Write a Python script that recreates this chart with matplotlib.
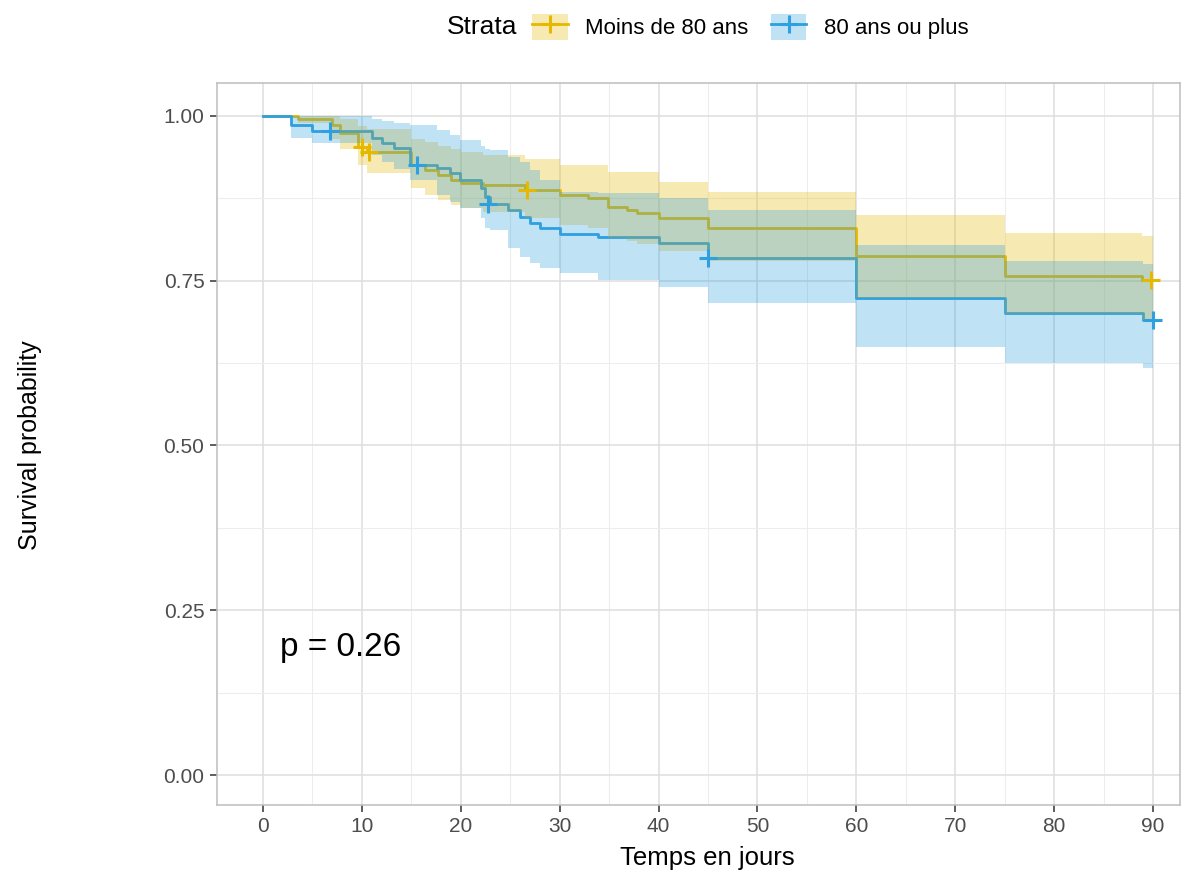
import numpy as np
import matplotlib
matplotlib.use("Agg")
import matplotlib.pyplot as plt
from matplotlib.patches import Patch
from matplotlib.lines import Line2D
from matplotlib.legend_handler import HandlerTuple

plt.rcParams['font.family'] = ['Liberation Sans', 'DejaVu Sans']

# Moins de 80 ans
t_young = [0, 3.5, 7.0, 7.8, 9.6, 10.5, 15.0, 16.4, 17.7, 19.0, 20.0, 22.2, 26.5, 30.0,
           32.9, 34.9, 36.8, 37.8, 40.0, 45.0, 60.0, 75.0, 88.9, 90.0]
s_young = [1.0, 0.996, 0.986, 0.974, 0.953, 0.945, 0.926, 0.918, 0.910, 0.903, 0.898, 0.895,
           0.888, 0.880, 0.876, 0.862, 0.857, 0.853, 0.845, 0.830, 0.788, 0.757, 0.751, 0.751]
up_young = [1.0, 1.0, 1.0, 0.995, 0.985, 0.98, 0.965, 0.96, 0.955, 0.95, 0.945, 0.94,
            0.935, 0.926, 0.926, 0.915, 0.915, 0.915, 0.90, 0.885, 0.85, 0.822, 0.818, 0.818]
lo_young = [1.0, 0.99, 0.965, 0.95, 0.925, 0.913, 0.89, 0.88, 0.872, 0.865, 0.86, 0.855,
            0.845, 0.835, 0.83, 0.815, 0.81, 0.805, 0.795, 0.78, 0.724, 0.70, 0.69, 0.69]
cens_t_young = [10.0, 10.7, 26.7, 89.8]
cens_s_young = [0.953, 0.945, 0.888, 0.751]

# 80 ans ou plus
t_old = [0, 2.8, 5.0, 11.0, 12.0, 13.2, 14.9, 17.6, 18.9, 19.9, 22.0, 22.5, 23.0, 24.8,
         26.0, 27.0, 28.0, 30.0, 33.9, 40.0, 45.0, 60.0, 75.0, 89.0, 90.0]
s_old = [1.0, 0.986, 0.977, 0.967, 0.959, 0.951, 0.926, 0.921, 0.913, 0.903, 0.891, 0.877,
         0.866, 0.857, 0.847, 0.838, 0.830, 0.821, 0.816, 0.807, 0.785, 0.724, 0.701, 0.690, 0.690]
up_old = [1.0, 1.0, 1.0, 0.995, 0.993, 0.99, 0.986, 0.979, 0.971, 0.964, 0.955, 0.95,
          0.948, 0.938, 0.93, 0.918, 0.903, 0.885, 0.883, 0.876, 0.857, 0.804, 0.78, 0.775, 0.775]
lo_old = [1.0, 0.967, 0.959, 0.94, 0.93, 0.92, 0.903, 0.88, 0.87, 0.86, 0.845, 0.83,
          0.827, 0.80, 0.786, 0.777, 0.769, 0.762, 0.751, 0.741, 0.716, 0.65, 0.625, 0.618, 0.618]
cens_t_old = [6.8, 15.6, 22.8, 45.0, 90.0]
cens_s_old = [0.977, 0.926, 0.866, 0.785, 0.690]

labels = ['Moins de 80 ans', '80 ans ou plus']
colors = ['#E7B800', '#2E9FDF']

fig = plt.figure(figsize=(12.03, 8.75), dpi=100)
ax = fig.add_axes([217/1203, 1 - 805/875, (1180 - 217)/1203, (805 - 83)/875])

groups = [(t_young, s_young, up_young, lo_young, cens_t_young, cens_s_young),
          (t_old, s_old, up_old, lo_old, cens_t_old, cens_s_old)]
for (t, s, up, lo, ct, cs), c in zip(groups, colors):
    ax.step(t, s, where='post', color=c, lw=2.0, zorder=3)
for (t, s, up, lo, ct, cs), c in zip(groups, colors):
    ax.fill_between(t, lo, up, step='post', color=c, alpha=0.3, lw=0, zorder=4)
for (t, s, up, lo, ct, cs), c in zip(groups, colors):
    ax.plot(ct, cs, ls='none', marker='+', color=c, ms=13, mew=2.2, zorder=5)

ax.set_xlim(-4.65, 92.73)
ax.set_ylim(-0.0455, 1.050)
ax.set_xticks(np.arange(0, 91, 10))
ax.set_xticks(np.arange(5, 90, 10), minor=True)
ax.set_yticks([0, 0.25, 0.5, 0.75, 1.0])
ax.set_yticklabels(['0.00', '0.25', '0.50', '0.75', '1.00'])
ax.set_yticks([0.125, 0.375, 0.625, 0.875], minor=True)
ax.grid(which='major', color='#DEDEDE', lw=1.1, zorder=0)
ax.grid(which='minor', color='#EDEDED', lw=0.8, zorder=0)
ax.set_axisbelow(True)
ax.tick_params(which='major', length=5, width=1.1, color='#333333',
               labelsize=15, labelcolor='#4D4D4D', pad=4)
ax.tick_params(which='minor', length=0)
for sp in ax.spines.values():
    sp.set_color('#BDBDBD')
    sp.set_linewidth(1.1)

fig.text(707/1203, 1 - 858/875, 'Temps en jours', ha='center', va='center', fontsize=18.5)
fig.text(30/1203, 1 - 445/875, 'Survival probability', ha='center', va='center',
         rotation=90, fontsize=18)
ax.text(1.7, 0.193, 'p = 0.26', ha='left', va='center', fontsize=24)

handles = [(Patch(facecolor=c, alpha=0.3, lw=0),
            Line2D([], [], color=c, lw=2.0, marker='+', ms=13, mew=2.2)) for c in colors]
fig.text(482/1203, 1 - 27/875, 'Strata', ha='center', va='center', fontsize=19)
fig.legend(handles, labels, handler_map={tuple: HandlerTuple(ndivide=1)},
           ncol=2, loc='center left', bbox_to_anchor=(532/1203, 1 - 27/875),
           frameon=False, fontsize=16, handlelength=1.6, handleheight=1.45,
           handletextpad=0.8, columnspacing=1.0, borderpad=0, borderaxespad=0)

fig.savefig('out.png', dpi=100)
